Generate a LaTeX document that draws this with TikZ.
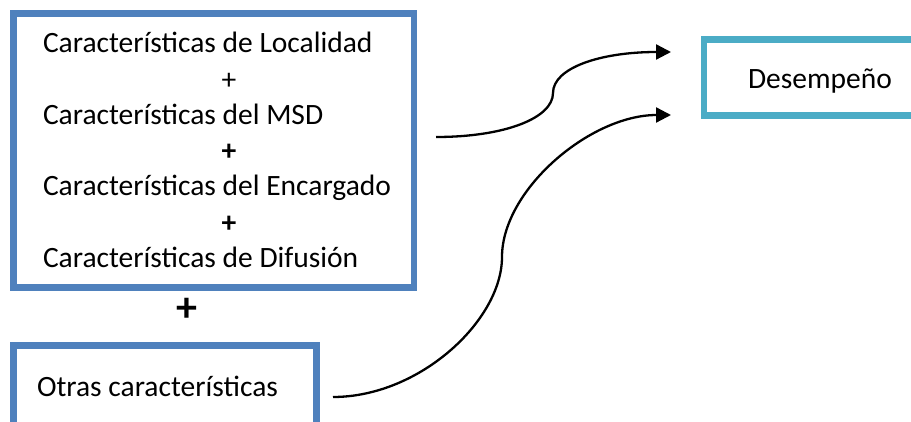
\documentclass[tikz,border=0pt]{standalone}
\usepackage{fontspec}
\setmainfont{Carlito}
\usetikzlibrary{arrows.meta}
\definecolor{boxblue}{RGB}{79,129,189}
\definecolor{boxteal}{RGB}{75,172,198}
\begin{document}
\begin{tikzpicture}[x=1pt,y=-1pt,
  bluebox/.style={draw=boxblue,line width=6.5pt,inner sep=0pt,outer sep=0pt},
  tealbox/.style={draw=boxteal,line width=6.5pt,inner sep=0pt,outer sep=0pt},
  txt/.style={inner sep=0pt,outer sep=0pt,font=\fontsize{29.5}{35}\selectfont},
  plusthin/.style={inner sep=0pt,outer sep=0pt,font=\fontsize{29.5}{35}\selectfont},
  plusbold/.style={inner sep=0pt,outer sep=0pt,font=\fontsize{29.5}{35}\selectfont\bfseries},
  plusbig/.style={inner sep=0pt,outer sep=0pt,font=\fontsize{42}{48}\selectfont\bfseries},
  conn/.style={line width=2.3pt,-{Triangle[length=15pt,width=15pt]}}]
\clip (0,0) rectangle (911,422);
\fill[white] (0,0) rectangle (911,422);
% boxes
\node[bluebox,minimum width=400.7pt,minimum height=274.4pt] (main) at (213.65,150.5) {};
\node[bluebox,minimum width=303.2pt,minimum height=99.5pt] (other) at (164.9,395.25) {};
\node[tealbox,minimum width=231pt,minimum height=76pt] (perf) at (819.5,77.5) {};
% texts
\node[txt,anchor=base west] (l1) at (43,53) {Características de Localidad};
\node[plusthin] (p1) at (229,81.5) {+};
\node[txt,anchor=base west] (l2) at (43,124.5) {Características del MSD};
\node[plusbold] (p2) at (229,152.3) {+};
\node[txt,anchor=base west] (l3) at (43,195.5) {Características del Encargado};
\node[plusbold] (p3) at (229,224) {+};
\node[txt,anchor=base west] (l4) at (43,267.5) {Características de Difusión};
\node[plusbig] (pbig) at (187,310) {+};
\node[txt,anchor=base west] (lo) at (37,396) {Otras características};
\node[txt,anchor=base west] (ld) at (748,89) {Desempeño};
% connectors
\coordinate (s1) at (436,137);
\coordinate (m1) at (553,93);
\coordinate (e1) at (671,52);
\coordinate (s2) at (333,397);
\coordinate (m2) at (502,257);
\coordinate (e2) at (671,115);
\draw[conn] (s1) .. controls (505,137) and (553,118) .. (m1)
  .. controls (553,68) and (600,52) .. (e1);
\draw[conn] (s2) .. controls (420,397) and (502,320) .. (m2)
  .. controls (502,190) and (590,115) .. (e2);
\end{tikzpicture}
\end{document}
